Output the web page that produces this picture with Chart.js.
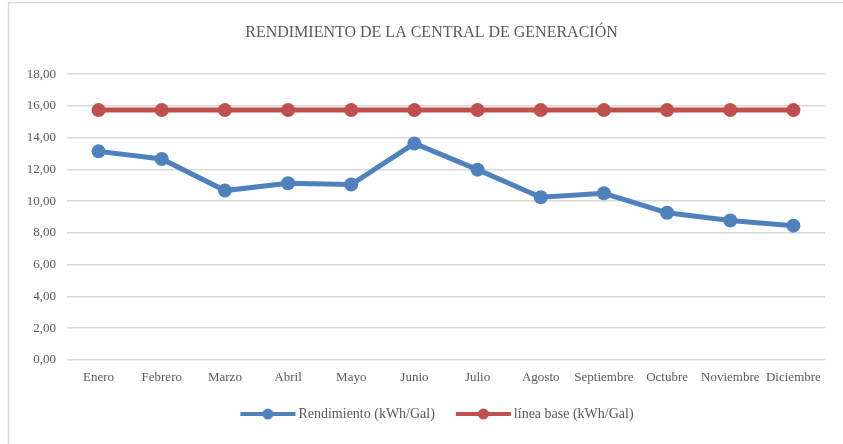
<!DOCTYPE html>
<html>
<head>
<meta charset="utf-8">
<script src="https://cdn.jsdelivr.net/npm/chart.js@4"></script>
<style>
  html, body { margin: 0; padding: 0; background: #ffffff; }
  #wrap { position: relative; width: 843px; height: 444px; }
</style>
</head>
<body>
<div id="wrap"><canvas id="c" width="843" height="444"></canvas></div>
<script>
const categories = ["Enero","Febrero","Marzo","Abril","Mayo","Junio","Julio","Agosto","Septiembre","Octubre","Noviembre","Diciembre"];
const rendimiento = [13.14, 12.66, 10.67, 11.13, 11.05, 13.64, 11.99, 10.25, 10.50, 9.27, 8.79, 8.46];
const lineaBase = [15.74, 15.74, 15.74, 15.74, 15.74, 15.74, 15.74, 15.74, 15.74, 15.74, 15.74, 15.74];
const seriesNames = ["Rendimiento (kWh/Gal)", "línea base (kWh/Gal)"];
const titleText = "RENDIMIENTO DE LA CENTRAL DE GENERACIÓN";

const BLUE = "#4F81BD";
const RED = "#C0504D";
const TEXT = "#595959";
const FONT = "'Liberation Serif', 'Times New Roman', serif";

// legend icon: line with a centred marker, drawn inside a 66px image (10px lead-in blank)
function legendIcon(color) {
  const cv = document.createElement('canvas');
  cv.width = 66; cv.height = 14;
  const g = cv.getContext('2d');
  g.strokeStyle = color; g.lineWidth = 4; g.lineCap = 'butt';
  g.beginPath(); g.moveTo(10, 7); g.lineTo(65, 7); g.stroke();
  g.fillStyle = color;
  g.beginPath(); g.arc(37.5, 7, 5.5, 0, Math.PI * 2); g.fill();
  return cv;
}
const icons = [legendIcon(BLUE), legendIcon(RED)];

const framePlugin = {
  id: 'frame',
  beforeDraw(chart) {
    const ctx = chart.ctx;
    ctx.save();
    ctx.fillStyle = '#ffffff';
    ctx.fillRect(0, 0, chart.width, chart.height);
    ctx.strokeStyle = '#D9D9D9';
    ctx.lineWidth = 1.5;
    ctx.strokeRect(8.5, 2.5, 900, 500);
    ctx.restore();
  }
};

// centre title and legend over the (wider, cropped) chart frame
const shiftPlugin = {
  id: 'shiftBoxes',
  afterLayout(chart) {
    if (chart.titleBlock) { chart.titleBlock.left += 9; chart.titleBlock.right += 9; }
    if (chart.legend) { chart.legend.left += 12; chart.legend.right += 12; }
  }
};

new Chart(document.getElementById('c'), {
  type: 'line',
  data: {
    labels: categories,
    datasets: [
      {
        label: seriesNames[0],
        data: rendimiento,
        borderColor: BLUE,
        backgroundColor: BLUE,
        borderWidth: 5,
        pointRadius: 7,
        pointHoverRadius: 7,
        pointBorderWidth: 0,
        pointBackgroundColor: BLUE,
        tension: 0
      },
      {
        label: seriesNames[1],
        data: lineaBase,
        borderColor: RED,
        backgroundColor: RED,
        borderWidth: 5,
        pointRadius: 7,
        pointHoverRadius: 7,
        pointBorderWidth: 0,
        pointBackgroundColor: RED,
        tension: 0
      }
    ]
  },
  options: {
    responsive: false,
    animation: false,
    devicePixelRatio: 1,
    layout: { padding: { left: 20, right: 18, top: 0, bottom: 13 } },
    plugins: {
      title: {
        display: true,
        text: titleText,
        color: TEXT,
        font: { family: FONT, size: 16, weight: 'normal' },
        padding: { top: 23, bottom: 32 }
      },
      legend: {
        display: true,
        position: 'bottom',
        labels: {
          color: TEXT,
          font: { family: FONT, size: 14 },
          usePointStyle: true,
          pointStyleWidth: 56,
          padding: 16,
          generateLabels(chart) {
            return chart.data.datasets.map((ds, i) => ({
              text: ds.label,
              fillStyle: ds.borderColor,
              strokeStyle: ds.borderColor,
              fontColor: TEXT,
              lineWidth: 0,
              pointStyle: icons[i],
              hidden: false,
              datasetIndex: i
            }));
          }
        }
      },
      tooltip: { enabled: false }
    },
    scales: {
      x: {
        offset: true,
        grid: { display: false, drawTicks: false, offset: true },
        border: { display: false },
        ticks: { color: TEXT, font: { family: FONT, size: 13 }, padding: 10, maxRotation: 0, autoSkip: false },
        afterFit(scale) { scale.height = 31; }
      },
      y: {
        min: 0,
        max: 18,
        grid: { color: '#D9D9D9', lineWidth: 1.5, drawTicks: false },
        border: { display: false },
        ticks: {
          stepSize: 2,
          color: TEXT,
          font: { family: FONT, size: 13 },
          padding: 11,
          callback: (v) => Number(v).toFixed(2).replace('.', ',')
        },
        afterFit(scale) { scale.width = 47; }
      }
    }
  },
  plugins: [framePlugin, shiftPlugin]
});
</script>
</body>
</html>
